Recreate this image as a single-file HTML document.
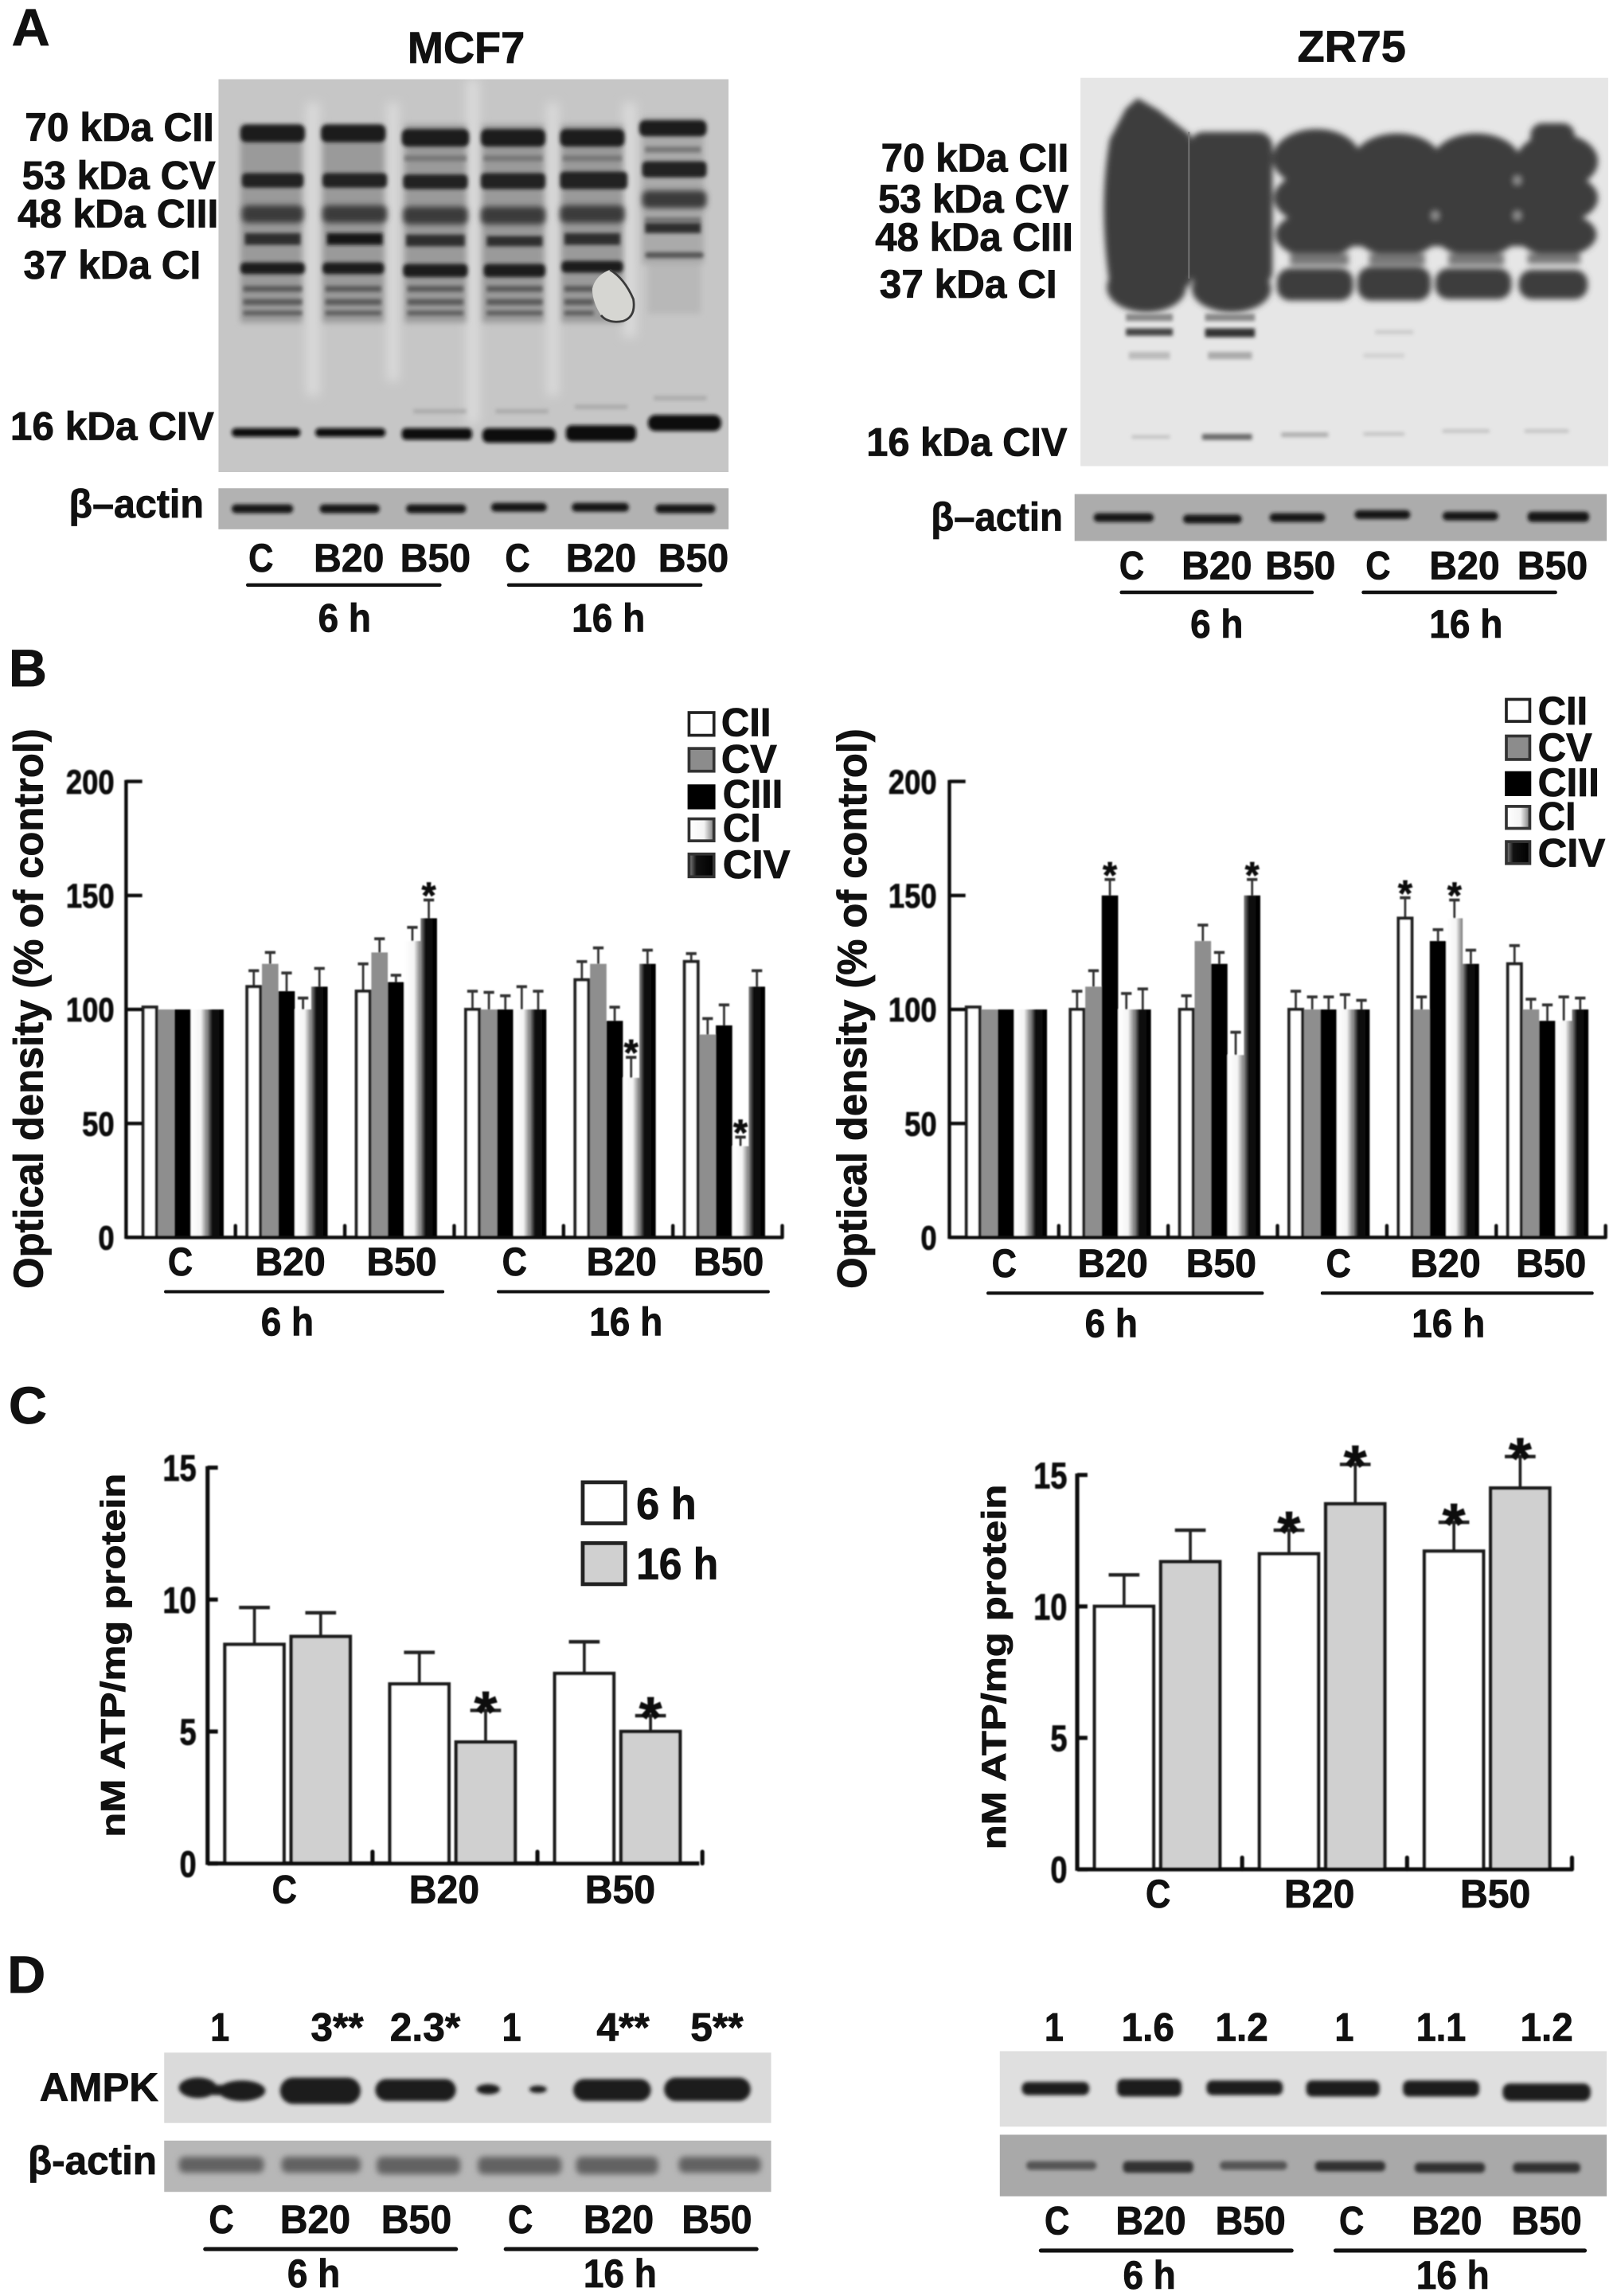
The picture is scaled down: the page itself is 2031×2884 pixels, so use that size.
<!DOCTYPE html>
<html lang="en">
<head>
<meta charset="utf-8">
<title>Mitochondrial complexes, ATP and AMPK in MCF7 and ZR75 cells</title>
<style>
html,body{margin:0;padding:0;background:#fff}
svg{display:block}
text{font-family:"Liberation Sans",sans-serif;font-weight:700;fill:#111;stroke:#111;stroke-width:.45}
.f23{font-size:23px}.f25{font-size:27px}.f26{font-size:27px}.f27{font-size:28px}.f28{font-size:30px}.f36{font-size:36px}
</style>
</head>
<body>
<svg id="figure" xmlns="http://www.w3.org/2000/svg" width="2031" height="2884" viewBox="0 0 1103 1566" preserveAspectRatio="none">
<defs>
<filter id="b05" filterUnits="userSpaceOnUse" x="0" y="0" width="1103" height="1566"><feGaussianBlur stdDeviation="0.45"/></filter>
<filter id="b1" filterUnits="userSpaceOnUse" x="0" y="0" width="1103" height="1566"><feGaussianBlur stdDeviation="1.3"/></filter>
<filter id="b2" filterUnits="userSpaceOnUse" x="0" y="0" width="1103" height="1566"><feGaussianBlur stdDeviation="2"/></filter>
<filter id="b4" filterUnits="userSpaceOnUse" x="0" y="0" width="1103" height="1566"><feGaussianBlur stdDeviation="3.5"/></filter>
<linearGradient id="ciGrad"><stop offset="0" stop-color="#fff"/><stop offset=".6" stop-color="#f4f4f4"/><stop offset="1" stop-color="#7a7a7a"/></linearGradient>
<linearGradient id="civGrad"><stop offset="0" stop-color="#888"/><stop offset=".3" stop-color="#111"/><stop offset="1" stop-color="#000"/></linearGradient>
<clipPath id="clipA1"><rect x="149" y="54" width="348" height="268"/></clipPath>
<clipPath id="clipA2"><rect x="737" y="53" width="360" height="265"/></clipPath>
</defs>

<!-- PANEL A -->
<text class="f36" x="8" y="31">A</text>
<text class="f28" x="318" y="43" text-anchor="middle" textLength="80" lengthAdjust="spacingAndGlyphs">MCF7</text>
<text class="f28" x="922" y="42" text-anchor="middle" textLength="74" lengthAdjust="spacingAndGlyphs">ZR75</text>

<g clip-path="url(#clipA1)">
  <rect x="149" y="54" width="348" height="268" fill="#c6c6c6"/>
  <g filter="url(#b4)" fill="#dadada">
    <rect x="209" y="70" width="9" height="200"/>
    <rect x="264" y="70" width="8" height="190"/>
    <rect x="318" y="54" width="9" height="235"/>
    <rect x="373" y="70" width="8" height="200"/>
    <rect x="425" y="70" width="9" height="160"/>
  </g>
  <g filter="url(#b2)" fill="#9a9a9a">
    <rect x="164" y="85" width="42" height="135"/>
    <rect x="220" y="85" width="42" height="135"/>
    <rect x="276" y="85" width="42" height="135"/>
    <rect x="329" y="85" width="42" height="135"/>
    <rect x="383" y="85" width="42" height="135"/>
    <rect x="438" y="80" width="42" height="100" fill="#aaa"/>
    <rect x="442" y="180" width="36" height="34" fill="#b8b8b8"/>
  </g>
  <g filter="url(#b1)" fill="#1f1f1f">
    <rect x="164" y="85" width="44" height="12" rx="4"/>
    <rect x="219" y="85" width="44" height="12" rx="4"/>
    <rect x="274" y="88" width="46" height="12" rx="4"/>
    <rect x="328" y="88" width="44" height="12" rx="4"/>
    <rect x="382" y="88" width="44" height="12" rx="4"/>
    <rect x="436" y="82" width="46" height="11" rx="4"/>
  </g>
  <g filter="url(#b1)" fill="#777">
    <rect x="276" y="106" width="42" height="4"/>
    <rect x="330" y="106" width="40" height="4"/>
    <rect x="384" y="106" width="40" height="4"/>
    <rect x="440" y="100" width="38" height="4"/>
    <rect x="440" y="148" width="38" height="4"/>
  </g>
  <g filter="url(#b1)" fill="#222">
    <rect x="165" y="118" width="42" height="10" rx="3"/>
    <rect x="220" y="118" width="44" height="10" rx="3"/>
    <rect x="275" y="119" width="44" height="10" rx="3"/>
    <rect x="328" y="118" width="44" height="11" rx="3"/>
    <rect x="382" y="117" width="46" height="12" rx="3"/>
    <rect x="438" y="110" width="44" height="11" rx="3"/>
  </g>
  <g filter="url(#b2)" fill="#3a3a3a">
    <rect x="165" y="140" width="42" height="12" rx="4"/>
    <rect x="220" y="140" width="44" height="12" rx="4"/>
    <rect x="275" y="141" width="44" height="12" rx="4"/>
    <rect x="328" y="141" width="44" height="12" rx="4"/>
    <rect x="382" y="140" width="44" height="12" rx="4"/>
    <rect x="438" y="130" width="44" height="12" rx="4"/>
  </g>
  <g filter="url(#b1)" fill="#2e2e2e">
    <rect x="167" y="159" width="38" height="8"/>
    <rect x="223" y="159" width="38" height="8" fill="#151515"/>
    <rect x="277" y="160" width="40" height="8"/>
    <rect x="332" y="161" width="38" height="7"/>
    <rect x="385" y="159" width="38" height="8"/>
    <rect x="440" y="152" width="38" height="7"/>
  </g>
  <g filter="url(#b1)" fill="#1c1c1c">
    <rect x="164" y="179" width="44" height="8" rx="3"/>
    <rect x="220" y="179" width="42" height="8" rx="3"/>
    <rect x="275" y="180" width="44" height="9" rx="3"/>
    <rect x="330" y="180" width="42" height="9" rx="3"/>
    <rect x="383" y="178" width="42" height="8" rx="3"/>
    <rect x="440" y="172" width="40" height="4" rx="2" fill="#555"/>
  </g>
  <g filter="url(#b1)" fill="#5a5a5a">
    <rect x="166" y="195" width="40" height="4"/>
    <rect x="222" y="195" width="38" height="4"/>
    <rect x="278" y="195" width="38" height="4"/>
    <rect x="332" y="195" width="38" height="4"/>
    <rect x="385" y="195" width="20" height="4"/>
    <rect x="166" y="204" width="40" height="4"/>
    <rect x="222" y="204" width="38" height="4"/>
    <rect x="278" y="204" width="38" height="4"/>
    <rect x="332" y="204" width="38" height="4"/>
    <rect x="385" y="204" width="20" height="4"/>
    <rect x="166" y="212" width="40" height="3"/>
    <rect x="222" y="212" width="38" height="3"/>
    <rect x="278" y="212" width="38" height="3"/>
    <rect x="332" y="212" width="38" height="3"/>
    <rect x="385" y="212" width="20" height="3"/>
  </g>
  <path d="M416 184 Q426 190 432 204 Q434 216 425 219 Q415 221 410 215 Q404 206 404 197 Q406 188 416 184Z" fill="#d6d6d2"/>
  <path d="M416 184 Q426 190 432 204 Q434 216 425 219 Q415 221 410 215" fill="none" stroke="#3a3a3a" stroke-width="1.5"/>
  <g filter="url(#b1)" fill="#aaa">
    <rect x="282" y="279" width="36" height="3"/>
    <rect x="338" y="279" width="36" height="3"/>
    <rect x="392" y="276" width="36" height="3"/>
    <rect x="446" y="270" width="36" height="3"/>
  </g>
  <g filter="url(#b1)" fill="#111">
    <rect x="158" y="292" width="47" height="6" rx="3"/>
    <rect x="215" y="292" width="48" height="6" rx="3"/>
    <rect x="274" y="292" width="48" height="8" rx="3"/>
    <rect x="329" y="292" width="50" height="10" rx="4"/>
    <rect x="386" y="290" width="48" height="11" rx="4"/>
    <rect x="442" y="283" width="50" height="11" rx="5"/>
  </g>
</g>

<g>
  <rect x="149" y="333" width="348" height="28" fill="#b2b2b2"/>
  <g filter="url(#b1)" fill="#161616">
    <rect x="158" y="344" width="42" height="6" rx="3"/>
    <rect x="218" y="344" width="41" height="6" rx="3"/>
    <rect x="277" y="344" width="41" height="6" rx="3"/>
    <rect x="335" y="343" width="38" height="6" rx="3"/>
    <rect x="390" y="343" width="39" height="6" rx="3"/>
    <rect x="447" y="344" width="41" height="6" rx="3"/>
  </g>
</g>

<g clip-path="url(#clipA2)">
  <rect x="737" y="53" width="360" height="265" fill="#e6e6e6"/>
  <g filter="url(#b2)" fill="#3d3d3d">
    <path d="M757 95 L768 74 L776 67 L790 75 L812 92 L812 195 L757 195 Q749 140 757 95Z"/>
    <ellipse cx="782" cy="196" rx="27" ry="17"/>
    <rect x="811" y="90" width="57" height="105" rx="10"/>
    <ellipse cx="840" cy="197" rx="27" ry="16"/>
    <ellipse cx="898" cy="108" rx="30" ry="20"/>
    <ellipse cx="898" cy="135" rx="29" ry="18"/>
    <ellipse cx="898" cy="160" rx="28" ry="16"/>
    <ellipse cx="953" cy="110" rx="30" ry="19"/>
    <ellipse cx="953" cy="135" rx="29" ry="17"/>
    <ellipse cx="953" cy="160" rx="28" ry="15"/>
    <ellipse cx="1007" cy="110" rx="30" ry="19"/>
    <ellipse cx="1007" cy="135" rx="29" ry="17"/>
    <ellipse cx="1007" cy="160" rx="28" ry="15"/>
    <rect x="1044" y="84" width="30" height="20" rx="8"/>
    <ellipse cx="1062" cy="110" rx="28" ry="19"/>
    <ellipse cx="1062" cy="135" rx="28" ry="17"/>
    <ellipse cx="1062" cy="160" rx="27" ry="15"/>
    <rect x="880" y="106" width="170" height="62"/>
    <ellipse cx="1035" cy="123" rx="2.5" ry="3" fill="#999"/>
    <ellipse cx="979" cy="147" rx="2.5" ry="3" fill="#999"/>
    <ellipse cx="1035" cy="147" rx="2.5" ry="3" fill="#999"/>
    <rect x="880" y="173" width="40" height="8" fill="#777"/>
    <rect x="934" y="173" width="38" height="8" fill="#777"/>
    <rect x="988" y="173" width="38" height="8" fill="#777"/>
    <rect x="1042" y="173" width="36" height="7" fill="#777"/>
    <rect x="871" y="183" width="52" height="22" rx="9"/>
    <rect x="926" y="182" width="50" height="23" rx="9"/>
    <rect x="979" y="183" width="52" height="21" rx="9"/>
    <rect x="1036" y="184" width="47" height="20" rx="9"/>
  </g>
  <line x1="811" y1="90" x2="811" y2="190" stroke="#777" stroke-width="1"/>
  <g filter="url(#b1)" fill="#888">
    <rect x="768" y="214" width="32" height="5"/>
    <rect x="822" y="214" width="34" height="5"/>
    <rect x="768" y="224" width="32" height="5" fill="#444"/>
    <rect x="822" y="224" width="34" height="6" fill="#333"/>
    <rect x="770" y="240" width="28" height="5" fill="#bbb"/>
    <rect x="824" y="240" width="30" height="5" fill="#aaa"/>
    <rect x="938" y="225" width="26" height="3" fill="#ccc"/>
    <rect x="930" y="241" width="28" height="3" fill="#d0d0d0"/>
  </g>
  <g filter="url(#b1)" fill="#bbb">
    <rect x="772" y="297" width="26" height="2"/>
    <rect x="820" y="296" width="34" height="4" fill="#666"/>
    <rect x="874" y="295" width="32" height="3" fill="#aaa"/>
    <rect x="930" y="295" width="28" height="2"/>
    <rect x="984" y="293" width="32" height="2"/>
    <rect x="1040" y="293" width="30" height="2"/>
  </g>
</g>

<g>
  <rect x="733" y="337" width="363" height="32" fill="#acacac"/>
  <g filter="url(#b1)" fill="#161616">
    <rect x="746" y="350" width="41" height="6" rx="3"/>
    <rect x="807" y="351" width="40" height="6" rx="3"/>
    <rect x="866" y="350" width="38" height="6" rx="3"/>
    <rect x="924" y="348" width="38" height="6" rx="3"/>
    <rect x="984" y="349" width="38" height="6" rx="3"/>
    <rect x="1042" y="349" width="42" height="7" rx="3"/>
  </g>
</g>

<g class="f25">
  <text x="17" y="96" textLength="129" lengthAdjust="spacingAndGlyphs">70 kDa CII</text>
  <text x="15" y="129" textLength="132" lengthAdjust="spacingAndGlyphs">53 kDa CV</text>
  <text x="12" y="155" textLength="137" lengthAdjust="spacingAndGlyphs">48 kDa CIII</text>
  <text x="16" y="190" textLength="121" lengthAdjust="spacingAndGlyphs">37 kDa CI</text>
  <text x="7" y="300" textLength="139" lengthAdjust="spacingAndGlyphs">16 kDa CIV</text>
  <text x="47" y="353" textLength="92" lengthAdjust="spacingAndGlyphs">β–actin</text>
</g>
<g class="f25">
  <text x="601" y="117" textLength="128" lengthAdjust="spacingAndGlyphs">70 kDa CII</text>
  <text x="599" y="145" textLength="130" lengthAdjust="spacingAndGlyphs">53 kDa CV</text>
  <text x="597" y="171" textLength="135" lengthAdjust="spacingAndGlyphs">48 kDa CIII</text>
  <text x="600" y="203" textLength="121" lengthAdjust="spacingAndGlyphs">37 kDa CI</text>
  <text x="591" y="311" textLength="137" lengthAdjust="spacingAndGlyphs">16 kDa CIV</text>
  <text x="635" y="362" textLength="90" lengthAdjust="spacingAndGlyphs">β–actin</text>
</g>
<g class="f25" text-anchor="middle">
  <text x="178" y="390" textLength="17" lengthAdjust="spacingAndGlyphs">C</text>
  <text x="238" y="390" textLength="48" lengthAdjust="spacingAndGlyphs">B20</text>
  <text x="297" y="390" textLength="48" lengthAdjust="spacingAndGlyphs">B50</text>
  <text x="353" y="390" textLength="17" lengthAdjust="spacingAndGlyphs">C</text>
  <text x="410" y="390" textLength="48" lengthAdjust="spacingAndGlyphs">B20</text>
  <text x="473" y="390" textLength="48" lengthAdjust="spacingAndGlyphs">B50</text>
  <text x="235" y="431" textLength="36" lengthAdjust="spacingAndGlyphs">6 h</text>
  <text x="415" y="431" textLength="50" lengthAdjust="spacingAndGlyphs">16 h</text>
</g>
<g stroke="#111" stroke-width="2.4" stroke-linecap="round">
  <line x1="169" y1="399" x2="300" y2="399"/>
  <line x1="347" y1="399" x2="478" y2="399"/>
</g>
<g class="f25" text-anchor="middle">
  <text x="772" y="395" textLength="17" lengthAdjust="spacingAndGlyphs">C</text>
  <text x="830" y="395" textLength="48" lengthAdjust="spacingAndGlyphs">B20</text>
  <text x="887" y="395" textLength="48" lengthAdjust="spacingAndGlyphs">B50</text>
  <text x="940" y="395" textLength="17" lengthAdjust="spacingAndGlyphs">C</text>
  <text x="999" y="395" textLength="48" lengthAdjust="spacingAndGlyphs">B20</text>
  <text x="1059" y="395" textLength="48" lengthAdjust="spacingAndGlyphs">B50</text>
  <text x="830" y="435" textLength="36" lengthAdjust="spacingAndGlyphs">6 h</text>
  <text x="1000" y="435" textLength="50" lengthAdjust="spacingAndGlyphs">16 h</text>
</g>
<g stroke="#111" stroke-width="2.4" stroke-linecap="round">
  <line x1="765" y1="404" x2="895" y2="404"/>
  <line x1="930" y1="404" x2="1061" y2="404"/>
</g>

<!-- PANEL B static text -->
<text class="f36" x="6" y="468">B</text>
<text class="f27" transform="translate(29,688) rotate(-90)" text-anchor="middle" textLength="382" lengthAdjust="spacingAndGlyphs">Optical density (% of control)</text>
<text class="f27" transform="translate(591,688) rotate(-90)" text-anchor="middle" textLength="382" lengthAdjust="spacingAndGlyphs">Optical density (% of control)</text>
<g id="chart-b1" filter="url(#b05)"></g>
<g id="chart-b2" filter="url(#b05)"></g>
<g class="f25" text-anchor="middle">
  <text x="123" y="870" textLength="17" lengthAdjust="spacingAndGlyphs">C</text>
  <text x="198" y="870" textLength="48" lengthAdjust="spacingAndGlyphs">B20</text>
  <text x="274" y="870" textLength="48" lengthAdjust="spacingAndGlyphs">B50</text>
  <text x="351" y="870" textLength="17" lengthAdjust="spacingAndGlyphs">C</text>
  <text x="424" y="870" textLength="48" lengthAdjust="spacingAndGlyphs">B20</text>
  <text x="497" y="870" textLength="48" lengthAdjust="spacingAndGlyphs">B50</text>
  <text x="196" y="911" textLength="36" lengthAdjust="spacingAndGlyphs">6 h</text>
  <text x="427" y="911" textLength="50" lengthAdjust="spacingAndGlyphs">16 h</text>
</g>
<g stroke="#111" stroke-width="2.2" stroke-linecap="round">
  <line x1="113" y1="881" x2="302" y2="881"/>
  <line x1="340" y1="881" x2="524" y2="881"/>
</g>
<g class="f25" text-anchor="middle">
  <text x="685" y="871" textLength="17" lengthAdjust="spacingAndGlyphs">C</text>
  <text x="759" y="871" textLength="48" lengthAdjust="spacingAndGlyphs">B20</text>
  <text x="833" y="871" textLength="48" lengthAdjust="spacingAndGlyphs">B50</text>
  <text x="913" y="871" textLength="17" lengthAdjust="spacingAndGlyphs">C</text>
  <text x="986" y="871" textLength="48" lengthAdjust="spacingAndGlyphs">B20</text>
  <text x="1058" y="871" textLength="48" lengthAdjust="spacingAndGlyphs">B50</text>
  <text x="758" y="912" textLength="36" lengthAdjust="spacingAndGlyphs">6 h</text>
  <text x="988" y="912" textLength="50" lengthAdjust="spacingAndGlyphs">16 h</text>
</g>
<g stroke="#111" stroke-width="2.2" stroke-linecap="round">
  <line x1="674" y1="882" x2="861" y2="882"/>
  <line x1="902" y1="882" x2="1086" y2="882"/>
</g>

<g>
  <rect x="470" y="486" width="17" height="15.5" fill="#fff" stroke="#222" stroke-width="2"/>
  <rect x="470" y="510.5" width="17" height="15.5" fill="#8c8c8c" stroke="#333" stroke-width="2"/>
  <rect x="470" y="536" width="17" height="15" fill="#000" stroke="#000" stroke-width="2"/>
  <rect x="470" y="558.5" width="17" height="15" fill="url(#ciGrad)" stroke="#333" stroke-width="2"/>
  <rect x="470" y="582.5" width="17" height="15.5" fill="url(#civGrad)" stroke="#333" stroke-width="2"/>
  <text class="f26" x="492" y="502" textLength="34" lengthAdjust="spacingAndGlyphs">CII</text>
  <text class="f26" x="492" y="527" textLength="38" lengthAdjust="spacingAndGlyphs">CV</text>
  <text class="f26" x="493" y="551" textLength="41" lengthAdjust="spacingAndGlyphs">CIII</text>
  <text class="f26" x="493" y="574" textLength="26" lengthAdjust="spacingAndGlyphs">CI</text>
  <text class="f26" x="493" y="599" textLength="46" lengthAdjust="spacingAndGlyphs">CIV</text>
</g>
<g>
  <rect x="1027.5" y="477" width="16" height="15" fill="#fff" stroke="#222" stroke-width="2"/>
  <rect x="1027.5" y="502" width="16" height="16" fill="#8c8c8c" stroke="#333" stroke-width="2"/>
  <rect x="1027.5" y="527" width="16" height="15" fill="#000" stroke="#000" stroke-width="2"/>
  <rect x="1027.5" y="550" width="16" height="15" fill="url(#ciGrad)" stroke="#333" stroke-width="2"/>
  <rect x="1027.5" y="574" width="16" height="15" fill="url(#civGrad)" stroke="#333" stroke-width="2"/>
  <text class="f26" x="1049" y="494" textLength="34" lengthAdjust="spacingAndGlyphs">CII</text>
  <text class="f26" x="1049" y="519" textLength="37" lengthAdjust="spacingAndGlyphs">CV</text>
  <text class="f26" x="1049" y="543" textLength="42" lengthAdjust="spacingAndGlyphs">CIII</text>
  <text class="f26" x="1049" y="566" textLength="26" lengthAdjust="spacingAndGlyphs">CI</text>
  <text class="f26" x="1049" y="591" textLength="46" lengthAdjust="spacingAndGlyphs">CIV</text>
</g>

<!-- PANEL C static text -->
<text class="f36" x="6" y="971">C</text>
<text class="f23" transform="translate(85,1129) rotate(-90)" text-anchor="middle" textLength="248" lengthAdjust="spacingAndGlyphs">nM ATP/mg protein</text>
<text class="f23" transform="translate(686,1137) rotate(-90)" text-anchor="middle" textLength="249" lengthAdjust="spacingAndGlyphs">nM ATP/mg protein</text>
<g id="chart-c1" filter="url(#b05)"></g>
<g id="chart-c2" filter="url(#b05)"></g>
<g>
  <rect x="397.5" y="1011" width="29" height="28" fill="#fff" stroke="#222" stroke-width="2.6"/>
  <rect x="397.5" y="1052.5" width="29" height="28" fill="#d0d0d0" stroke="#222" stroke-width="2.6"/>
  <text class="f28" x="434" y="1036" textLength="41" lengthAdjust="spacingAndGlyphs">6 h</text>
  <text class="f28" x="434" y="1077" textLength="56" lengthAdjust="spacingAndGlyphs">16 h</text>
</g>
<g class="f25" text-anchor="middle">
  <text x="194" y="1298" textLength="17" lengthAdjust="spacingAndGlyphs">C</text>
  <text x="303" y="1298" textLength="48" lengthAdjust="spacingAndGlyphs">B20</text>
  <text x="423" y="1298" textLength="48" lengthAdjust="spacingAndGlyphs">B50</text>
</g>
<g class="f25" text-anchor="middle">
  <text x="790" y="1301" textLength="17" lengthAdjust="spacingAndGlyphs">C</text>
  <text x="900" y="1301" textLength="48" lengthAdjust="spacingAndGlyphs">B20</text>
  <text x="1020" y="1301" textLength="48" lengthAdjust="spacingAndGlyphs">B50</text>
</g>

<!-- PANEL D -->
<text class="f36" x="5" y="1359">D</text>
<g class="f25" text-anchor="middle">
  <text x="150" y="1392" textLength="13" lengthAdjust="spacingAndGlyphs">1</text>
  <text x="230" y="1392" textLength="36" lengthAdjust="spacingAndGlyphs">3**</text>
  <text x="290" y="1392" textLength="48" lengthAdjust="spacingAndGlyphs">2.3*</text>
  <text x="349" y="1392" textLength="13" lengthAdjust="spacingAndGlyphs">1</text>
  <text x="425" y="1392" textLength="36" lengthAdjust="spacingAndGlyphs">4**</text>
  <text x="489" y="1392" textLength="36" lengthAdjust="spacingAndGlyphs">5**</text>
</g>
<g class="f25" text-anchor="middle">
  <text x="719" y="1392" textLength="13" lengthAdjust="spacingAndGlyphs">1</text>
  <text x="783" y="1392" textLength="36" lengthAdjust="spacingAndGlyphs">1.6</text>
  <text x="847" y="1392" textLength="36" lengthAdjust="spacingAndGlyphs">1.2</text>
  <text x="917" y="1392" textLength="13" lengthAdjust="spacingAndGlyphs">1</text>
  <text x="983" y="1392" textLength="34" lengthAdjust="spacingAndGlyphs">1.1</text>
  <text x="1055" y="1392" textLength="36" lengthAdjust="spacingAndGlyphs">1.2</text>
</g>
<text class="f26" x="27" y="1433" textLength="81" lengthAdjust="spacingAndGlyphs">AMPK</text>
<text class="f26" x="19" y="1483" textLength="88" lengthAdjust="spacingAndGlyphs">β-actin</text>

<g>
  <rect x="112" y="1400" width="414" height="48" fill="#dadada"/>
  <g filter="url(#b1)" fill="#1a1a1a">
    <ellipse cx="135" cy="1424" rx="13" ry="7"/>
    <ellipse cx="165" cy="1426" rx="16" ry="7"/>
    <rect x="145" y="1422" width="10" height="7"/>
    <rect x="191" y="1417" width="55" height="18" rx="9"/>
    <rect x="256" y="1418" width="55" height="15" rx="7.5"/>
    <ellipse cx="333" cy="1425" rx="8" ry="3.5"/>
    <ellipse cx="367" cy="1425" rx="6" ry="2.5"/>
    <rect x="391" y="1418" width="53" height="15" rx="7.5"/>
    <rect x="453" y="1417" width="59" height="16" rx="8"/>
  </g>
  <rect x="112" y="1460" width="414" height="35" fill="#b7b7b7"/>
  <g filter="url(#b2)" fill="#626262">
    <rect x="122" y="1471" width="58" height="11" rx="4"/>
    <rect x="192" y="1471" width="54" height="11" rx="4"/>
    <rect x="257" y="1471" width="57" height="12" rx="4"/>
    <rect x="326" y="1471" width="57" height="12" rx="4"/>
    <rect x="393" y="1471" width="56" height="12" rx="4"/>
    <rect x="463" y="1471" width="56" height="11" rx="4"/>
  </g>
</g>
<g>
  <rect x="682" y="1399" width="414" height="51.5" fill="#dfdfdf"/>
  <g filter="url(#b1)" fill="#1e1e1e">
    <rect x="697" y="1420" width="46" height="9" rx="4"/>
    <rect x="762" y="1418" width="44" height="12" rx="4"/>
    <rect x="823" y="1419" width="52" height="10" rx="4"/>
    <rect x="891" y="1419" width="50" height="11" rx="4"/>
    <rect x="957" y="1419" width="52" height="11" rx="4"/>
    <rect x="1025" y="1421" width="60" height="12" rx="5"/>
  </g>
  <rect x="682" y="1456" width="414" height="42" fill="#a9a9a9"/>
  <g filter="url(#b1)" fill="#333">
    <rect x="700" y="1474" width="48" height="6" rx="3" fill="#555"/>
    <rect x="766" y="1474" width="48" height="8" rx="3"/>
    <rect x="832" y="1474" width="46" height="6" rx="3" fill="#555"/>
    <rect x="897" y="1474" width="48" height="7" rx="3"/>
    <rect x="965" y="1475" width="48" height="7" rx="3"/>
    <rect x="1032" y="1475" width="46" height="7" rx="3"/>
  </g>
</g>
<g class="f25" text-anchor="middle">
  <text x="151" y="1523" textLength="17" lengthAdjust="spacingAndGlyphs">C</text>
  <text x="215" y="1523" textLength="48" lengthAdjust="spacingAndGlyphs">B20</text>
  <text x="284" y="1523" textLength="48" lengthAdjust="spacingAndGlyphs">B50</text>
  <text x="355" y="1523" textLength="17" lengthAdjust="spacingAndGlyphs">C</text>
  <text x="422" y="1523" textLength="48" lengthAdjust="spacingAndGlyphs">B20</text>
  <text x="489" y="1523" textLength="48" lengthAdjust="spacingAndGlyphs">B50</text>
  <text x="214" y="1560" textLength="36" lengthAdjust="spacingAndGlyphs">6 h</text>
  <text x="423" y="1560" textLength="50" lengthAdjust="spacingAndGlyphs">16 h</text>
</g>
<g stroke="#111" stroke-width="2.8" stroke-linecap="round">
  <line x1="140" y1="1534" x2="311" y2="1534"/>
  <line x1="345" y1="1534" x2="516" y2="1534"/>
</g>
<g class="f25" text-anchor="middle">
  <text x="721" y="1524" textLength="17" lengthAdjust="spacingAndGlyphs">C</text>
  <text x="785" y="1524" textLength="48" lengthAdjust="spacingAndGlyphs">B20</text>
  <text x="853" y="1524" textLength="48" lengthAdjust="spacingAndGlyphs">B50</text>
  <text x="922" y="1524" textLength="17" lengthAdjust="spacingAndGlyphs">C</text>
  <text x="987" y="1524" textLength="48" lengthAdjust="spacingAndGlyphs">B20</text>
  <text x="1055" y="1524" textLength="48" lengthAdjust="spacingAndGlyphs">B50</text>
  <text x="784" y="1561" textLength="36" lengthAdjust="spacingAndGlyphs">6 h</text>
  <text x="991" y="1561" textLength="50" lengthAdjust="spacingAndGlyphs">16 h</text>
</g>
<g stroke="#111" stroke-width="2.8" stroke-linecap="round">
  <line x1="710" y1="1535" x2="881" y2="1535"/>
  <line x1="911" y1="1535" x2="1081" y2="1535"/>
</g>
</svg>

<script>
// ---- chart data ----
const densityTicks = [0, 50, 100, 150, 200];
const atpTicks = [0, 5, 10, 15];
const complexNames = ['cii', 'cv', 'ciii', 'ci', 'civ'];
const complexFills = ['#fff', '#8e8e8e', '#000', 'url(#ciGrad)', 'url(#civGrad)'];

// MCF7 optical density, groups: 6h C, B20, B50, 16h C, B20, B50
const mcf7CII  = [101, 110, 108, 100, 113, 121];
const mcf7CV   = [100, 120, 125, 100, 120, 89];
const mcf7CIII = [100, 108, 112, 100, 95, 93];
const mcf7CI   = [100, 100, 130, 100, 70, 40];
const mcf7CIV  = [100, 110, 140, 100, 120, 110];
const mcf7CIIErr  = [101, 117, 120, 108, 121, 124.5];
const mcf7CVErr   = [100, 125, 131, 107.5, 127, 96];
const mcf7CIIIErr = [100, 116, 115, 106, 101, 102];
const mcf7CIErr   = [100, 105, 136, 110, 79, 44];
const mcf7CIVErr  = [100, 118, 148, 108, 126, 117];
const mcf7CIStar  = [0, 0, 0, 0, 1, 1];
const mcf7CIVStar = [0, 0, 1, 0, 0, 0];

// ZR75 optical density
const zr75CII  = [101, 100, 100, 100, 140, 120];
const zr75CV   = [100, 110, 130, 100, 100, 100];
const zr75CIII = [100, 150, 120, 100, 130, 95];
const zr75CI   = [100, 100, 80, 100, 140, 95];
const zr75CIV  = [100, 100, 150, 100, 120, 100];
const zr75CIIErr  = [101, 108, 106, 108, 149, 128];
const zr75CVErr   = [100, 117, 137, 105.5, 105.5, 104.5];
const zr75CIIIErr = [100, 157, 125, 105.5, 135, 102];
const zr75CIErr   = [100, 107, 90, 106.5, 148, 105.5];
const zr75CIVErr  = [100, 109, 157, 104, 126, 105];
const zr75CIIStar  = [0, 0, 0, 0, 1, 0];
const zr75CIIIStar = [0, 1, 0, 0, 0, 0];
const zr75CIStar   = [0, 0, 0, 0, 1, 0];
const zr75CIVStar  = [0, 0, 1, 0, 0, 0];
const noStar = [0, 0, 0, 0, 0, 0];

// ATP, groups: C, B20, B50
const mcf7Atp6h  = [8.3, 6.8, 7.2];
const mcf7Atp16h = [8.6, 4.6, 5.0];
const mcf7Atp6hErr  = [9.7, 8.0, 8.4];
const mcf7Atp16hErr = [9.5, 5.8, 5.6];
const mcf7Atp6hStar  = [0, 0, 0];
const mcf7Atp16hStar = [0, 1, 1];
const zr75Atp6h  = [10, 12, 12.1];
const zr75Atp16h = [11.7, 13.9, 14.5];
const zr75Atp6hErr  = [11.2, 12.9, 13.2];
const zr75Atp16hErr = [12.9, 15.4, 15.7];
const zr75Atp6hStar  = [0, 1, 1];
const zr75Atp16hStar = [0, 1, 1];

// ---- drawing ----
const NS = 'http://www.w3.org/2000/svg';
function mk(tag, attrs, parent) {
  const el = document.createElementNS(NS, tag);
  for (const k in attrs) el.setAttribute(k, attrs[k]);
  parent.appendChild(el);
  return el;
}

function drawStar(parent, x, yCenter, size) {
  const s = mk('text', {x: x, y: yCenter + size * 0.52, 'text-anchor': 'middle', style: 'font-size:' + size + 'px'}, parent);
  
  
  s.textContent = '*';
}

function drawAxes(g, ax, ticks, yScale, yBase, stubXs, xEnd, tickLen, labelX, labelSize, digitW, sw) {
  const yTop = yScale(ticks[ticks.length - 1]);
  const yAxis = mk('line', {x1: ax, y1: yTop - 1, x2: ax, y2: yBase + 1, stroke: '#111', 'stroke-width': sw}, g);
  
  
  const xAxis = mk('line', {x1: ax, y1: yBase, x2: xEnd, y2: yBase, stroke: '#111', 'stroke-width': sw}, g);
  
  
  ticks.forEach(function (t) {
    const tick = mk('line', {x1: ax, y1: yScale(t), x2: ax + tickLen, y2: yScale(t), stroke: '#111', 'stroke-width': sw}, g);
    
    
    const label = mk('text', {
      x: labelX, y: yScale(t) + labelSize * 0.36, 'text-anchor': 'end',
      textLength: String(t).length * digitW, lengthAdjust: 'spacingAndGlyphs',
      style: 'font-size:' + labelSize + 'px'
    }, g);
    
    
    label.textContent = t;
  });
  stubXs.forEach(function (x) {
    const stub = mk('line', {x1: x, y1: yBase, x2: x, y2: yBase - 8, stroke: '#111', 'stroke-width': sw, 'stroke-linecap': 'round'}, g);
    
    
  });
}

function drawDensity(id, ax, xEnd, labelX, values, errs, stars) {
  const g = document.getElementById(id);
  const yBase = 844, yTop = 533, groupW = 74.6, barW = 11.2;
  const yScale = function (v) { return yBase - v * (yBase - yTop) / 200; };
  const groups = values[0].length;
  const stubs = [];
  for (let i = 1; i <= groups; i++) stubs.push(ax + groupW * i);
  for (let i = 0; i < groups; i++) {
    const x0 = ax + groupW * i + (i === 0 ? 10.6 : 6.9);
    values.forEach(function (series, s) {
      const x = x0 + s * barW;
      const err = errs[s][i];
      if (err > series[i]) {
        const stem = mk('line', {x1: x + barW / 2, y1: yScale(series[i]), x2: x + barW / 2, y2: yScale(err), stroke: '#333', 'stroke-width': 1.5}, g);
        
        
        const cap = mk('line', {x1: x + barW / 2 - 3.6, y1: yScale(err), x2: x + barW / 2 + 3.6, y2: yScale(err), stroke: '#333', 'stroke-width': 2}, g);
        
        
      }
      const white = s === 0;
      const bar = mk('rect', {
        x: x + (white ? 1 : 0), y: yScale(series[i]),
        width: barW - (white ? 2 : 0), height: yBase - yScale(series[i]),
        fill: complexFills[s], stroke: white ? '#222' : 'none', 'stroke-width': white ? 2.2 : 0
      }, g);
      
      
      if (stars[s][i]) drawStar(g, x + barW / 2, yScale(err) - 7.5, 25);
    });
  }
  drawAxes(g, ax, densityTicks, yScale, yBase, stubs, xEnd, 11, labelX, 23, 11, 2.4);
}

function drawAtp(id, ax, xEnd, yBase, yTop, labelX, v6, v16, e6, e16, s6, s16) {
  const g = document.getElementById(id);
  const groupW = 112.5, barW = 40.3;
  const yScale = function (v) { return yBase - v * (yBase - yTop) / 15; };
  const stubs = [];
  for (let i = 1; i <= v6.length; i++) stubs.push(ax + groupW * i);
  for (let i = 0; i < v6.length; i++) {
    [[v6, e6, s6, '#fff', 11.8, 'bar-6h'], [v16, e16, s16, '#d0d0d0', 57, 'bar-16h']].forEach(function (d) {
      const x = ax + groupW * i + d[4];
      const val = d[0][i], err = d[1][i];
      const stem = mk('line', {x1: x + barW / 2, y1: yScale(val), x2: x + barW / 2, y2: yScale(err), stroke: '#222', 'stroke-width': 2}, g);
      
      
      const cap = mk('line', {x1: x + barW / 2 - 10.5, y1: yScale(err), x2: x + barW / 2 + 10.5, y2: yScale(err), stroke: '#222', 'stroke-width': 2.4}, g);
      
      
      const bar = mk('rect', {x: x, y: yScale(val), width: barW, height: yBase - yScale(val), fill: d[3], stroke: '#1a1a1a', 'stroke-width': 2.4}, g);
      
      
      if (d[2][i]) drawStar(g, x + barW / 2, yScale(err) - 6, 40);
    });
  }
  drawAxes(g, ax, atpTicks, yScale, yBase, stubs, xEnd, 7, labelX, 25, 11.5, 2.8);
}

drawDensity('chart-b1', 86, 533.5, 78,
  [mcf7CII, mcf7CV, mcf7CIII, mcf7CI, mcf7CIV],
  [mcf7CIIErr, mcf7CVErr, mcf7CIIIErr, mcf7CIErr, mcf7CIVErr],
  [noStar, noStar, noStar, mcf7CIStar, mcf7CIVStar]);
drawDensity('chart-b2', 647.6, 1095, 639,
  [zr75CII, zr75CV, zr75CIII, zr75CI, zr75CIV],
  [zr75CIIErr, zr75CVErr, zr75CIIIErr, zr75CIErr, zr75CIVErr],
  [zr75CIIStar, noStar, zr75CIIIStar, zr75CIStar, zr75CIVStar]);
drawAtp('chart-c1', 141.6, 477, 1271, 1001, 134, mcf7Atp6h, mcf7Atp16h, mcf7Atp6hErr, mcf7Atp16hErr, mcf7Atp6hStar, mcf7Atp16hStar);
drawAtp('chart-c2', 734.8, 1072, 1275, 1006, 728, zr75Atp6h, zr75Atp16h, zr75Atp6hErr, zr75Atp16hErr, zr75Atp6hStar, zr75Atp16hStar);
</script>
</body>
</html>
